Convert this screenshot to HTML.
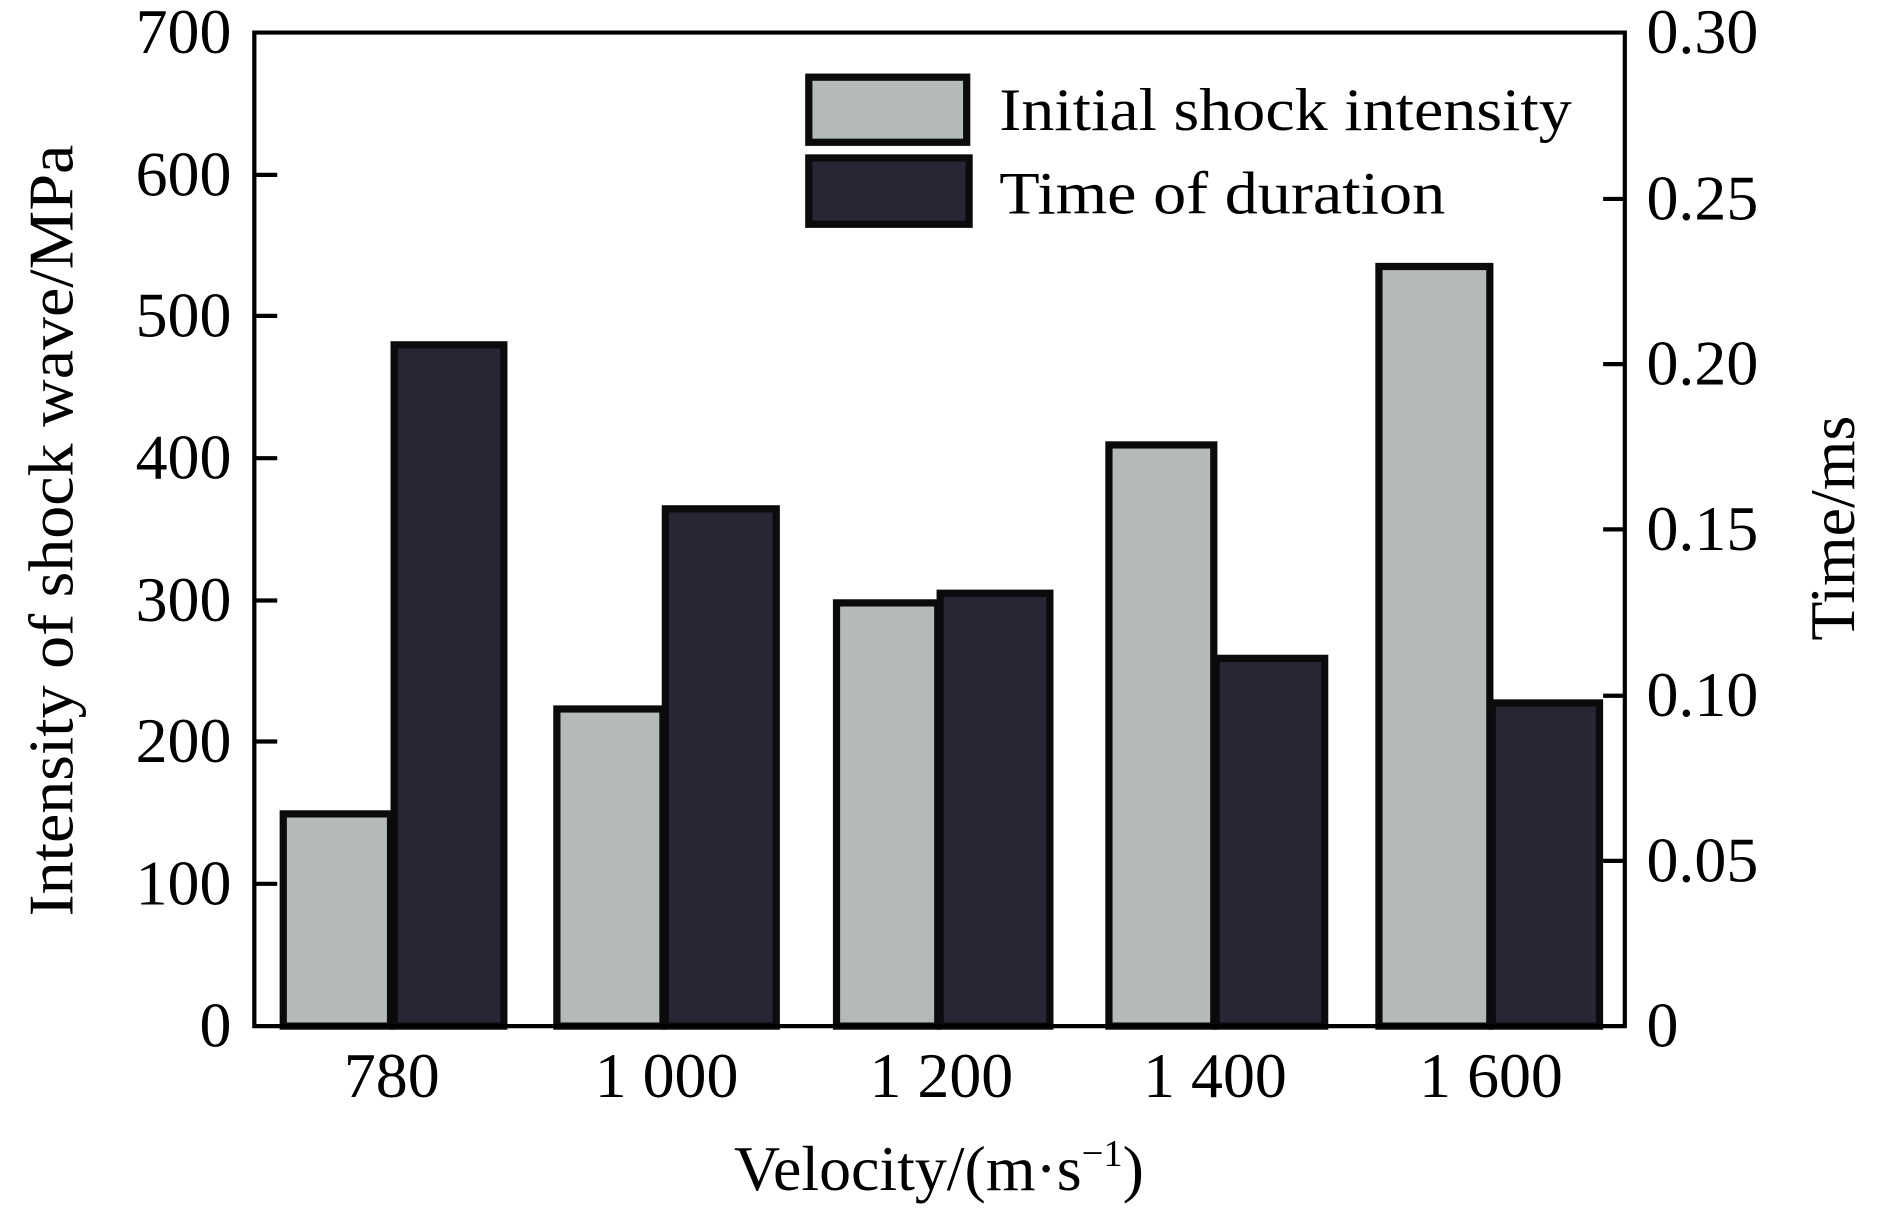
<!DOCTYPE html>
<html><head><meta charset="utf-8"><style>html,body{margin:0;padding:0;background:#fff}svg{display:block}</style></head>
<body>
<svg width="1890" height="1213" viewBox="0 0 1568 1006" preserveAspectRatio="none" xmlns="http://www.w3.org/2000/svg" font-family="Liberation Serif, serif" fill="#000">
<g stroke="#0b0b0d" stroke-width="6">
<rect x="235" y="675" width="89" height="176" fill="#b3bab7"/>
<rect x="327" y="286" width="91" height="565" fill="#272634"/>
<rect x="462" y="588" width="88" height="263" fill="#b3bab7"/>
<rect x="552" y="422" width="92" height="429" fill="#272634"/>
<rect x="694" y="500" width="84" height="351" fill="#b3bab7"/>
<rect x="780" y="492" width="91" height="359" fill="#272634"/>
<rect x="920" y="369" width="87" height="482" fill="#b3bab7"/>
<rect x="1009" y="546" width="90" height="305" fill="#272634"/>
<rect x="1144" y="221" width="92" height="630" fill="#b3bab7"/>
<rect x="1238" y="583" width="89" height="268" fill="#272634"/>
<rect x="671" y="64" width="131" height="54" fill="#b3bab7"/>
<rect x="671" y="131" width="133" height="55" fill="#272634"/>
</g>
<g stroke="#000" stroke-width="3.5" fill="none">
<path d="M211 851V27H1348V851Z"/>
<path d="M211 733h19M211 615h19M211 498h19M211 380h19M211 262h19M211 145h19"/>
<path d="M1348 714h-18M1348 577h-18M1348 439h-18M1348 302h-18M1348 165h-18"/>
</g>
<g font-size="53" text-anchor="end">
<text x="192" y="868">0</text><text x="192" y="750">100</text><text x="192" y="632">200</text><text x="192" y="515">300</text><text x="192" y="397">400</text><text x="192" y="279">500</text><text x="192" y="162">600</text><text x="192" y="44">700</text>
</g>
<g font-size="53">
<text x="1366" y="868">0</text><text x="1366" y="731">0.05</text><text x="1366" y="594">0.10</text><text x="1366" y="456">0.15</text><text x="1366" y="319">0.20</text><text x="1366" y="182">0.25</text><text x="1366" y="44">0.30</text>
</g>
<g font-size="53" text-anchor="middle">
<text x="325" y="910">780</text><text x="553" y="910">1 000</text><text x="781" y="910">1 200</text><text x="1008" y="910">1 400</text><text x="1237" y="910">1 600</text>
<text x="779" y="987">Velocity/(m·s<tspan font-size="32" dy="-20">−1</tspan><tspan dy="20">)</tspan></text>
<text transform="translate(60,440) rotate(-90)" textLength="640" lengthAdjust="spacingAndGlyphs">Intensity of shock wave/MPa</text>
<text transform="translate(1538,438) rotate(-90)">Time/ms</text>
</g>
<g font-size="50">
<text x="829" y="108" textLength="475" lengthAdjust="spacingAndGlyphs">Initial shock intensity</text>
<text x="829" y="177" textLength="370" lengthAdjust="spacingAndGlyphs">Time of duration</text>
</g>
</svg>
</body></html>
